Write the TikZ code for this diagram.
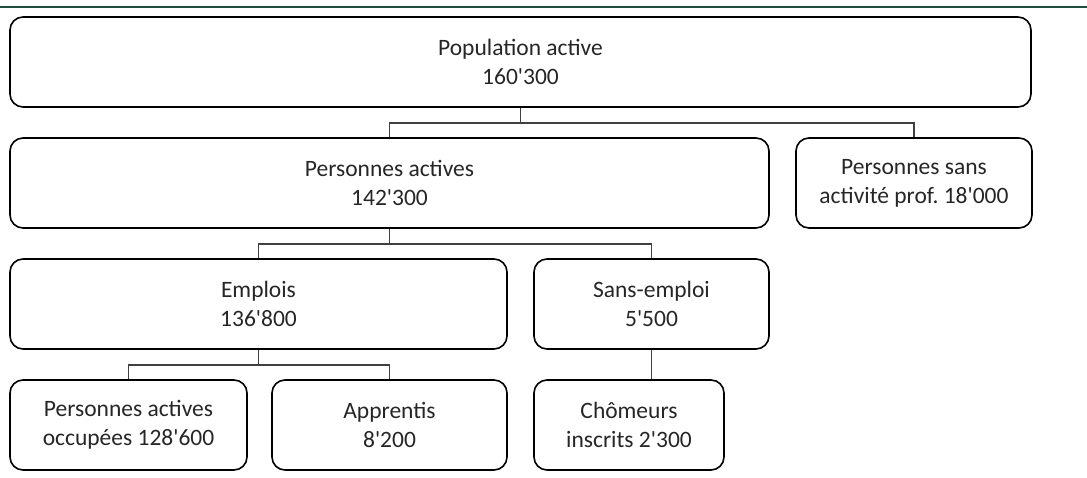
\documentclass[tikz,border=0pt]{standalone}
\usepackage{fontspec}
\setmainfont{Carlito}
\frenchspacing
\definecolor{txtcol}{HTML}{262626}
\definecolor{linecol}{HTML}{404040}
\definecolor{rulecol}{HTML}{1F4E3D}
\newcommand\aq{\textquotesingle}
\begin{document}
\begin{tikzpicture}[x=1pt,y=-1pt,
  box/.style={draw=black, line width=1.6pt, rounded corners=13pt, inner sep=0pt,
    minimum height=90pt, align=center, text=txtcol,
    font=\fontsize{23.5}{29}\selectfont},
  conn/.style={draw=linecol, line width=1.3pt}]
\useasboundingbox (0,0) rectangle (1087,477);
\draw[rulecol, line width=1.2pt] (0,7) -- (1087,7);
\node[box, minimum width=1021pt] (pop) at (520.5,62) {Population active\\160\aq300};
\node[box, minimum width=759pt] (act) at (389.5,183) {Personnes actives\\142\aq300};
\node[box, minimum width=236pt] (sans) at (914,183) {Personnes sans\\activité prof. 18\aq000};
\node[box, minimum width=497pt] (empl) at (258.5,304) {Emplois\\136\aq800};
\node[box, minimum width=235pt] (semp) at (651.5,304) {Sans-emploi\\5\aq500};
\node[box, minimum width=237pt] (occ) at (128.5,425) {Personnes actives\\occupées 128\aq600};
\node[box, minimum width=235pt] (app) at (389.5,425) {Apprentis\\8\aq200};
\node[box, minimum width=190pt] (cho) at (629,425) {Chômeurs\\inscrits 2\aq300};
\coordinate (j1) at (520.5,123);
\coordinate (j2) at (389.5,244);
\coordinate (j3) at (258.5,365);
\draw[conn] (pop.south) -- (j1);
\draw[conn] (act.north) |- (j1) -| (sans.north);
\draw[conn] (act.south) -- (j2);
\draw[conn] (empl.north) |- (j2) -| (semp.north);
\draw[conn] (empl.south) -- (j3);
\draw[conn] (occ.north) |- (j3) -| (app.north);
\draw[conn] (semp.south) -- (semp.south |- cho.north);
\end{tikzpicture}
\end{document}
